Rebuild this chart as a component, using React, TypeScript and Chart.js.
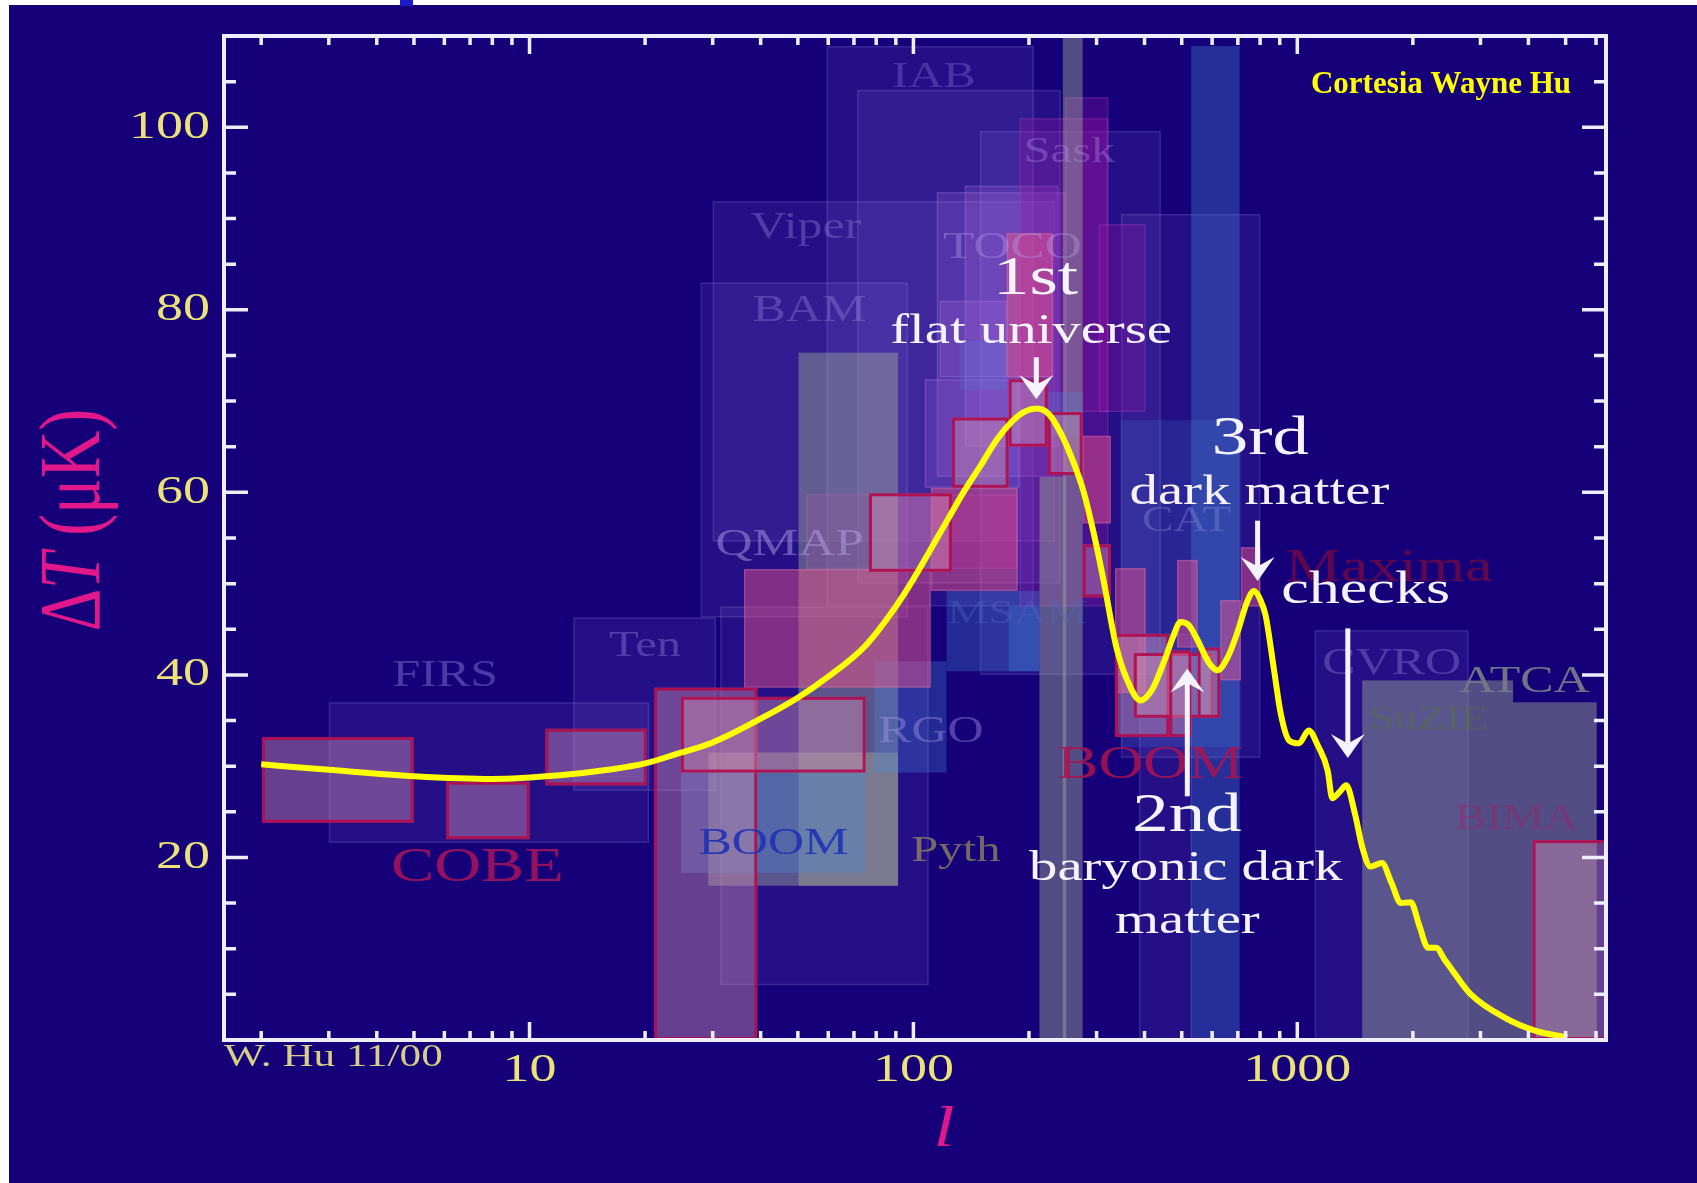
import React, { useEffect, useRef } from 'react';
import { Chart, registerables } from 'chart.js';

Chart.register(...registerables);

const W = 1697;
const H = 1183;
const NAVY = '#150079';
const AXIS = '#eeeeff';
const TICK_YELLOW = '#ebe27a';
const MAGENTA = '#e0188c';
const WHITE = '#f5f3ff';
const SERIF = '"Liberation Serif", "DejaVu Serif", serif';
const SX = 1.35;

// ---- theory curve (multipole l, ΔT in μK) ----
const curveL = [2, 3, 5, 8, 12, 16, 20, 24, 30, 40, 50, 60, 75, 90, 100, 119, 135, 150, 165, 181, 196, 210, 225, 242, 260, 277, 295, 313, 338, 360, 390, 420, 450, 475, 496, 520, 550, 585, 619, 660, 700, 740, 771, 800, 827, 870, 906, 953, 1010, 1071, 1130, 1200, 1233, 1290, 1341, 1413, 1477, 1551, 1660, 1760, 1861, 1975, 2080, 2191, 2299, 2420, 2568, 2832, 3486, 4180, 5047];
const curveT = [30.2, 29.6, 28.9, 28.6, 29.0, 29.6, 30.3, 31.3, 32.6, 35.2, 37.5, 39.8, 43.2, 47.5, 50.5, 56.0, 60.0, 63.0, 65.8, 67.8, 68.9, 69.2, 68.6, 66.5, 63.5, 60.2, 55.5, 50.3, 43.0, 39.5, 37.2, 38.5, 41.5, 44.2, 45.8, 45.5, 43.8, 41.5, 40.5, 42.0, 44.8, 48.0, 49.2, 48.3, 46.5, 40.5, 35.7, 32.8, 32.5, 33.9, 32.3, 29.5, 26.5, 27.2, 27.9, 24.8, 21.1, 19.0, 19.4, 17.2, 15.0, 15.1, 12.5, 10.1, 10.1, 8.8, 7.3, 5.0, 2.4, 1.0, 0.3];

// ---- experimental band powers: [lMin, lMax, ΔTmin, ΔTmax] ----
const violetBoxes = [
  [59.4, 206, 47.5, 108.9],
  [71.3, 242, 50.0, 104.1],
  [149, 441, 40.0, 99.6],
  [30.0, 234, 54.6, 91.9],
  [27.9, 96.8, 46.3, 83.0],
  [347, 801, 30.9, 90.5],
  [1110, 2793, 0, 44.9],
  [13.0, 30.6, 27.3, 46.3],
  [3.0, 20.5, 21.6, 37.0],
  [31.4, 109.6, 6.0, 47.5],
  [387, 532, 0, 44.5],
];
const mauveBoxes = [
  [115, 250, 61.7, 92.9],
  [136, 239, 65.0, 93.6],
  [107, 189, 60.5, 72.4],
  [117, 175, 72.6, 81.0],
];
const purpleBoxes = [
  [189, 322, 47.5, 101.0],
  [248, 322, 68.8, 103.3],
  [304, 403, 68.8, 89.4],
  [52.5, 187, 51.6, 59.8],
];
const grayBoxes = [
  [245, 276, 0, 110],
  [213, 250, 0, 61.7],
  [50.2, 91.2, 16.9, 75.3],
  [29.2, 91.2, 16.9, 31.5],
  [1476, 3648, 0, 39.4],
  [3648, 6026, 0, 37.0],
];
const blueBoxes = [
  [529, 708, 0, 108.9],
  [347, 713, 32.1, 67.9],
  [24.8, 75.1, 18.3, 29.6],
  [122, 213, 40.4, 49.2],
  [177, 213, 40.4, 47.5],
  [79.1, 122, 29.3, 41.5],
  [132, 175, 71.2, 76.6],
  [224, 276, 66.0, 71.0],
];
const blueAlpha = [0.33, 0.18, 0.33, 0.3, 0.3, 0.3, 0.2, 0.25];
const pinkBoxes = [
  [36.2, 111, 38.6, 51.6],
  [111, 187, 49.2, 60.5],
  [276, 327, 56.6, 66.2],
  [335, 403, 38.0, 51.7],
  [486, 550, 43.0, 52.6],
  [630, 713, 39.4, 48.2],
  [713, 801, 47.5, 54.0],
  [175, 231, 72.6, 88.4],
];
const redBoxes = [
  [2.01, 4.99, 23.8, 33.2],
  [6.06, 10.0, 22.0, 28.3],
  [11.0, 20.2, 27.9, 34.1],
  [21.1, 39.2, 0, 38.6],
  [24.8, 75.1, 29.3, 37.6],
  [76.6, 126, 51.3, 59.9],
  [126, 177, 60.5, 68.2],
  [177, 224, 65.0, 72.4],
  [224, 276, 61.9, 68.8],
  [276, 327, 48.5, 54.3],
  [335, 464, 33.2, 44.5],
  [375, 606, 35.3, 42.4],
  [464, 530, 33.2, 42.7],
  [550, 630, 35.3, 43.0],
  [4100, 6680, 0, 21.9],
];

// ---- experiment names ----
const expNames = ['IAB', 'Sask', 'Viper', 'TOCO', 'BAM', 'QMAP', 'Ten', 'FIRS', 'COBE', 'BOOM', 'Pyth', 'RGO', 'MSAM', 'CAT', 'BOOM', 'Maxima', 'CVRO', 'ATCA', 'SuZIE', 'BIMA'];
const expL = [113, 255, 52.5, 181, 53.6, 47.6, 20.0, 6.03, 7.32, 43.2, 129, 111, 187, 515, 414, 1734, 1762, 3908, 2198, 3725];
const expT = [105.5, 97.2, 88.9, 86.8, 79.8, 54.2, 43.1, 39.8, 18.8, 21.4, 20.6, 33.7, 46.7, 56.8, 30.0, 51.6, 41.2, 39.2, 35.1, 24.1];
const expSize = [36, 36, 37, 38, 37, 38, 36, 37, 48, 37, 36, 37, 34, 35, 46, 46, 37, 37, 34, 35];
const expColor = [
  'rgba(150,130,230,0.32)', 'rgba(180,150,240,0.35)', 'rgba(170,150,235,0.33)', 'rgba(185,160,240,0.38)',
  'rgba(170,150,235,0.33)', 'rgba(190,170,240,0.45)', 'rgba(170,150,235,0.35)', 'rgba(170,150,235,0.38)',
  'rgba(170,20,90,0.85)', 'rgba(30,50,180,0.9)', 'rgba(150,140,95,0.75)', 'rgba(175,160,235,0.4)',
  'rgba(80,100,190,0.4)', 'rgba(130,140,210,0.4)', 'rgba(170,20,80,0.85)', 'rgba(130,10,60,0.7)',
  'rgba(170,150,235,0.33)', 'rgba(120,120,135,0.95)', 'rgba(90,110,60,0.5)', 'rgba(160,30,100,0.45)',
];

// ---- annotations ----
const noteText = ['1st', 'flat universe', '3rd', 'dark matter', 'checks', '2nd', 'baryonic dark', 'matter'];
const noteL = [208, 202.5, 801, 797, 1507, 516, 512, 517];
const noteT = [83.3, 77.6, 65.8, 59.9, 49.2, 24.4, 18.7, 12.9];
const noteSize = [54, 42, 54, 42, 46, 54, 42, 42];

const arrowL = [209, 788, 1354, 517];
const arrowFrom = [74.8, 56.9, 45.1, 26.7];
const arrowTo = [70.2, 50.3, 30.9, 40.7];

// ---- axes ----
const xMin = 1.6;
const xMax = 6370;
const yMin = 0;
const yMax = 110;
const xTickValues = [10, 100, 1000];
const xTickLabels = ['10', '100', '1000'];
const xMinorTicks = [2, 3, 4, 5, 6, 7, 8, 9, 20, 30, 40, 50, 60, 70, 80, 90, 200, 300, 400, 500, 600, 700, 800, 900, 2000, 3000, 4000, 5000, 6000];
const yTickValues = [20, 40, 60, 80, 100];
const yTickLabels = ['20', '40', '60', '80', '100'];
const yMinorTicks = [5, 10, 15, 25, 30, 35, 45, 50, 55, 65, 70, 75, 85, 90, 95, 105];

const boxStyles: Array<[number[][], string, string | null, number, number[] | null]> = [
  [violetBoxes, 'rgba(150,120,230,0.12)', 'rgba(180,160,255,0.16)', 1.5, null],
  [mauveBoxes, 'rgba(180,110,225,0.2)', 'rgba(190,150,255,0.2)', 1.5, null],
  [purpleBoxes, 'rgba(145,20,160,0.32)', 'rgba(180,100,220,0.2)', 1.5, null],
  [grayBoxes, 'rgba(160,170,150,0.45)', null, 0, null],
  [blueBoxes, 'rgb(70,140,220)', null, 0, blueAlpha],
  [pinkBoxes, 'rgba(245,85,135,0.45)', 'rgba(240,150,200,0.22)', 1.5, null],
  [redBoxes, 'rgba(205,140,175,0.45)', 'rgba(175,15,80,0.95)', 3, null],
];

function drawText(ctx: CanvasRenderingContext2D, s: string, x: number, y: number, font: string, color: string, align: CanvasTextAlign = 'center', sx = SX) {
  ctx.save();
  ctx.translate(x, y);
  ctx.scale(sx, 1);
  ctx.font = font;
  ctx.fillStyle = color;
  ctx.textAlign = align;
  ctx.textBaseline = 'middle';
  ctx.fillText(s, 0, 0);
  ctx.restore();
}

const bgPlugin = {
  id: 'bgPlugin',
  beforeDraw(chart: any) {
    const ctx = chart.ctx;
    ctx.save();
    ctx.fillStyle = '#ffffff';
    ctx.fillRect(0, 0, W, H);
    ctx.fillStyle = NAVY;
    ctx.fillRect(9, 5, W - 9, H - 5);
    ctx.fillStyle = '#1c1cc8';
    ctx.fillRect(400, 0, 13, 6);
    ctx.restore();
  },
};

const boxPlugin = {
  id: 'boxPlugin',
  beforeDatasetsDraw(chart: any) {
    const { ctx, chartArea: a, scales } = chart;
    const x = scales.x;
    const y = scales.y;
    ctx.save();
    ctx.beginPath();
    ctx.rect(a.left, a.top, a.right - a.left, a.bottom - a.top);
    ctx.clip();
    for (const [boxes, fill, stroke, lw, alphas] of boxStyles) {
      boxes.forEach((b, i) => {
        const x1 = x.getPixelForValue(b[0]);
        const x2 = x.getPixelForValue(b[1]);
        const y1 = y.getPixelForValue(b[3]);
        const y2 = y.getPixelForValue(b[2]);
        ctx.globalAlpha = alphas ? alphas[i] : 1;
        ctx.fillStyle = fill;
        ctx.fillRect(x1, y1, x2 - x1, y2 - y1);
        ctx.globalAlpha = 1;
        if (stroke) {
          ctx.strokeStyle = stroke;
          ctx.lineWidth = lw;
          ctx.strokeRect(x1 + lw / 2, y1 + lw / 2, x2 - x1 - lw, y2 - y1 - lw);
        }
      });
    }
    for (let i = 0; i < expNames.length; i++) {
      drawText(ctx, expNames[i], x.getPixelForValue(expL[i]), y.getPixelForValue(expT[i]), `${expSize[i]}px ${SERIF}`, expColor[i]);
    }
    ctx.restore();
  },
};

const decoPlugin = {
  id: 'decoPlugin',
  afterDatasetsDraw(chart: any) {
    const { ctx, chartArea: a, scales } = chart;
    const x = scales.x;
    const y = scales.y;
    ctx.save();
    // frame
    ctx.strokeStyle = AXIS;
    ctx.lineWidth = 4;
    ctx.strokeRect(a.left, a.top, a.right - a.left, a.bottom - a.top);
    // ticks
    ctx.lineWidth = 3.5;
    const vTick = (px: number, len: number) => {
      ctx.beginPath();
      ctx.moveTo(px, a.bottom); ctx.lineTo(px, a.bottom - len);
      ctx.moveTo(px, a.top); ctx.lineTo(px, a.top + len);
      ctx.stroke();
    };
    const hTick = (py: number, len: number) => {
      ctx.beginPath();
      ctx.moveTo(a.left, py); ctx.lineTo(a.left + len, py);
      ctx.moveTo(a.right, py); ctx.lineTo(a.right - len, py);
      ctx.stroke();
    };
    xTickValues.forEach((v) => vTick(x.getPixelForValue(v), 18));
    xMinorTicks.forEach((v) => vTick(x.getPixelForValue(v), 9));
    yTickValues.forEach((v) => hTick(y.getPixelForValue(v), 24));
    yMinorTicks.forEach((v) => hTick(y.getPixelForValue(v), 12));

    // tick labels
    xTickValues.forEach((v, i) => drawText(ctx, xTickLabels[i], x.getPixelForValue(v), a.bottom + 30, `40px ${SERIF}`, TICK_YELLOW));
    yTickValues.forEach((v, i) => drawText(ctx, yTickLabels[i], a.left - 14, y.getPixelForValue(v), `40px ${SERIF}`, TICK_YELLOW, 'right'));
    drawText(ctx, 'W. Hu 11/00', a.left, a.bottom + 18, `32px ${SERIF}`, '#d6cf86', 'left');

    // axis titles
    drawText(ctx, 'l', 944, 1131, `italic 56px ${SERIF}`, MAGENTA);
    ctx.save();
    ctx.translate(76, 520);
    ctx.rotate(-Math.PI / 2);
    ctx.scale(1, 1.3);
    const parts: Array<[string, string]> = [['Δ', `66px ${SERIF}`], ['T', `italic 66px ${SERIF}`], [' (μK)', `66px ${SERIF}`]];
    let total = 0;
    const widths = parts.map(([s, f]) => { ctx.font = f; const w = ctx.measureText(s).width; total += w; return w; });
    let cx = -total / 2;
    ctx.fillStyle = MAGENTA;
    ctx.textBaseline = 'middle';
    ctx.textAlign = 'left';
    parts.forEach(([s, f], i) => { ctx.font = f; ctx.fillText(s, cx, 0); cx += widths[i]; });
    ctx.restore();

    // annotations
    for (let i = 0; i < noteText.length; i++) {
      drawText(ctx, noteText[i], x.getPixelForValue(noteL[i]), y.getPixelForValue(noteT[i]), `${noteSize[i]}px ${SERIF}`, WHITE);
    }
    // arrows
    ctx.strokeStyle = WHITE;
    ctx.fillStyle = WHITE;
    ctx.lineWidth = 5;
    for (let i = 0; i < arrowL.length; i++) {
      const px = x.getPixelForValue(arrowL[i]);
      const p0 = y.getPixelForValue(arrowFrom[i]);
      const p1 = y.getPixelForValue(arrowTo[i]);
      const dir = p1 > p0 ? 1 : -1;
      const head = 24;
      ctx.beginPath();
      ctx.moveTo(px, p0);
      ctx.lineTo(px, p1 - dir * head * 0.6);
      ctx.stroke();
      ctx.beginPath();
      ctx.moveTo(px, p1);
      ctx.lineTo(px - 17, p1 - dir * head);
      ctx.lineTo(px, p1 - dir * head * 0.6);
      ctx.lineTo(px + 17, p1 - dir * head);
      ctx.closePath();
      ctx.fill();
    }
    // credit
    ctx.font = `bold 31px ${SERIF}`;
    ctx.fillStyle = '#ffff00';
    ctx.textAlign = 'right';
    ctx.textBaseline = 'alphabetic';
    ctx.fillText('Cortesia Wayne Hu', 1571, 93);
    ctx.restore();
  },
};

export default function App() {
  const ref = useRef<HTMLCanvasElement | null>(null);
  useEffect(() => {
    if (!ref.current) return;
    const chart = new Chart(ref.current, {
      type: 'line',
      data: {
        datasets: [
          {
            data: curveL.map((l, i) => ({ x: l, y: curveT[i] })),
            borderColor: '#ffff00',
            borderWidth: 6,
            pointRadius: 0,
            fill: false,
            cubicInterpolationMode: 'monotone',
          },
        ],
      },
      options: {
        animation: false,
        responsive: false,
        devicePixelRatio: 1,
        events: [],
        layout: { padding: { left: 0, top: 36, right: 91, bottom: 0 } },
        plugins: { legend: { display: false }, tooltip: { enabled: false }, title: { display: false } },
        scales: {
          x: {
            type: 'logarithmic',
            min: xMin,
            max: xMax,
            grid: { display: false, drawTicks: false },
            border: { display: false },
            ticks: { display: false },
            afterFit: (s: any) => { s.height = 143; },
          },
          y: {
            type: 'linear',
            min: yMin,
            max: yMax,
            grid: { display: false, drawTicks: false },
            border: { display: false },
            ticks: { display: false },
            afterFit: (s: any) => { s.width = 224; },
          },
        },
      } as any,
      plugins: [bgPlugin, boxPlugin, decoPlugin],
    });
    return () => chart.destroy();
  }, []);
  return (
    <div style={{ position: 'fixed', left: 0, top: 0, width: W, height: H, background: '#fff' }}>
      <canvas ref={ref} width={W} height={H} style={{ display: 'block', width: W, height: H }} />
    </div>
  );
}
